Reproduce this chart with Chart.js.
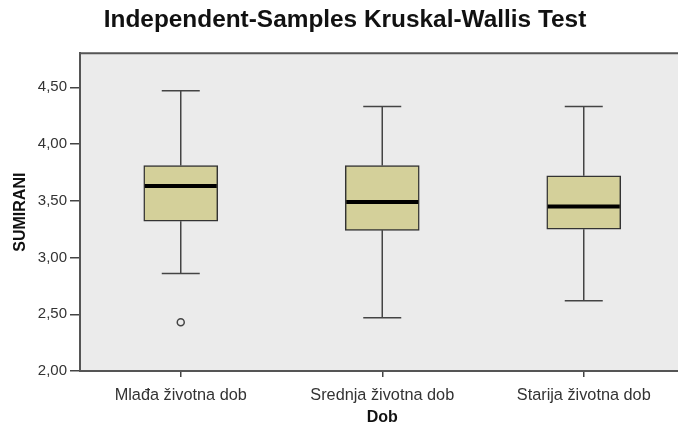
<!DOCTYPE html>
<html>
<head>
<meta charset="utf-8">
<script src="https://cdn.jsdelivr.net/npm/chart.js@4.4.1/dist/chart.umd.min.js"></script>
<style>
  html, body { margin: 0; padding: 0; background: #fff; }
  #wrap { width: 678px; height: 425px; overflow: hidden; }
</style>
</head>
<body>
<div id="wrap"><canvas id="myChart" width="690" height="427"></canvas></div>
<script>
// values
var categories = ['Mlađa životna dob', 'Srednja životna dob', 'Starija životna dob'];
var whiskerLow = [2.86, 2.47, 2.62];
var q1 = [3.32, 3.24, 3.25];
var median = [3.63, 3.49, 3.45];
var q3 = [3.81, 3.81, 3.72];
var whiskerHigh = [4.47, 4.33, 4.33];
var outliers = [2.43, null, null];
var yTicks = [2, 2.5, 3, 3.5, 4, 4.5];

var plotBg = '#ebebeb';
var lineCol = '#444';

var boxParts = {
    id: 'boxParts',
    beforeDraw: function (chart) {
        var a = chart.chartArea;
        var c = chart.ctx;
        c.save();
        c.fillStyle = plotBg;
        c.fillRect(a.left, a.top, a.right - a.left, a.bottom - a.top);
        c.restore();
    },
    beforeDatasetsDraw: function (chart) {
        var c = chart.ctx;
        var x = chart.scales.x, y = chart.scales.y;
        c.save();
        c.strokeStyle = lineCol;
        c.lineWidth = 1.5;
        categories.forEach(function (cat, i) {
            var px = x.getPixelForValue(i);
            var capHalf = 19;
            c.beginPath();
            c.moveTo(px, y.getPixelForValue(whiskerLow[i]));
            c.lineTo(px, y.getPixelForValue(q1[i]));
            c.moveTo(px, y.getPixelForValue(q3[i]));
            c.lineTo(px, y.getPixelForValue(whiskerHigh[i]));
            c.moveTo(px - capHalf, y.getPixelForValue(whiskerLow[i]));
            c.lineTo(px + capHalf, y.getPixelForValue(whiskerLow[i]));
            c.moveTo(px - capHalf, y.getPixelForValue(whiskerHigh[i]));
            c.lineTo(px + capHalf, y.getPixelForValue(whiskerHigh[i]));
            c.stroke();
        });
        c.restore();
    },
    afterDatasetsDraw: function (chart) {
        var c = chart.ctx;
        var a = chart.chartArea;
        var y = chart.scales.y;
        var bars = chart.getDatasetMeta(0).data;
        c.save();
        c.strokeStyle = '#000';
        c.lineWidth = 4;
        bars.forEach(function (bar, i) {
            var py = y.getPixelForValue(median[i]);
            c.beginPath();
            c.moveTo(bar.x - bar.width / 2 + 1, py);
            c.lineTo(bar.x + bar.width / 2 - 1, py);
            c.stroke();
        });
        // top frame line
        c.strokeStyle = '#555';
        c.lineWidth = 2;
        c.beginPath();
        c.moveTo(a.left, a.top);
        c.lineTo(a.right, a.top);
        c.stroke();
        c.restore();
    }
};

var ctx = document.getElementById('myChart');

var myBoxChart = new Chart(ctx, {
    type: 'bar',
    data: {
        labels: categories,
        datasets: [{
            data: categories.map(function (c, i) { return [q1[i], q3[i]]; }),
            backgroundColor: '#d4d09a',
            borderColor: '#333',
            borderWidth: 1.5,
            borderSkipped: false,
            barThickness: 74
        }, {
            type: 'line',
            data: outliers,
            showLine: false,
            pointRadius: 3.5,
            pointBackgroundColor: plotBg,
            pointBorderColor: lineCol,
            pointBorderWidth: 1.5
        }]
    },
    options: {
        responsive: false,
        animation: false,
        layout: { padding: 0 },
        plugins: {
            legend: { display: false },
            tooltip: { enabled: false },
            title: {
                display: true,
                text: 'Independent-Samples Kruskal-Wallis Test',
                color: '#111',
                font: { family: 'Liberation Sans', size: 24.4, weight: 'bold' },
                padding: { top: 6, bottom: 18 }
            }
        },
        scales: {
            x: {
                offset: true,
                grid: { display: true, drawOnChartArea: false, offset: false, tickLength: 6, color: lineCol, lineWidth: 1.5 },
                border: { display: true, color: '#555', width: 2 },
                ticks: { color: '#333', padding: 9, font: { family: 'Liberation Sans', size: 16.3 } },
                title: {
                    display: true,
                    text: 'Dob',
                    color: '#111',
                    font: { family: 'Liberation Sans', size: 16, weight: 'bold' },
                    padding: 0
                },
                afterFit: function (scale) { scale.height = 56; }
            },
            y: {
                min: 2,
                max: 4.8,
                afterBuildTicks: function (scale) {
                    scale.ticks = yTicks.map(function (v) { return { value: v }; });
                },
                grid: { display: true, drawOnChartArea: false, tickLength: 10, color: lineCol, lineWidth: 1.5 },
                border: { display: true, color: '#555', width: 2 },
                ticks: {
                    color: '#333',
                    padding: 3,
                    font: { family: 'Liberation Sans', size: 15 },
                    callback: function (v) { return Number(v).toFixed(2).replace('.', ','); }
                },
                title: {
                    display: true,
                    text: 'SUMIRANI',
                    color: '#111',
                    font: { family: 'Liberation Sans', size: 16, weight: 'bold' },
                    padding: { top: 11, bottom: 0 }
                },
                afterFit: function (scale) { scale.width = 80; }
            }
        }
    },
    plugins: [boxParts]
});
</script>
</body>
</html>
